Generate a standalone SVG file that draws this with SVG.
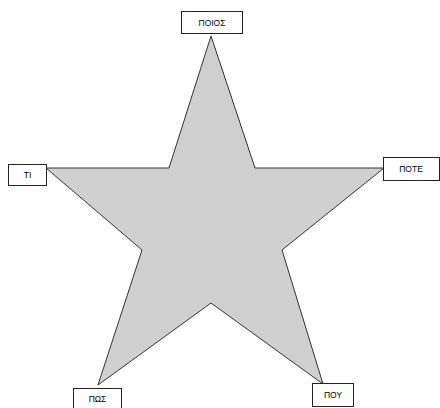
<svg xmlns="http://www.w3.org/2000/svg" width="440" height="408" viewBox="0 0 440 408">
<style>
.box{fill:#fff;stroke:#222;stroke-width:1}
.lbl{font-family:"Liberation Sans",Arial,sans-serif;font-size:8.5px;fill:#000;text-anchor:middle;dominant-baseline:central}
</style>
<rect width="440" height="408" fill="#fff"/>
<g id="star">
<polygon points="211,36 255,168 384,168 282,250 323,384 211,303 98,385 142,250 46,168 169,168" fill="#d0d0d0" stroke="#333" stroke-width="1"/>
</g>
<g id="node-poios"><rect class="box" x="181.5" y="11.5" width="61" height="22"/><text class="lbl" x="212" y="22.5">ΠΟΙΟΣ</text></g>
<g id="node-ti"><rect class="box" x="8.5" y="164.5" width="38" height="21"/><text class="lbl" x="27.5" y="175">ΤΙ</text></g>
<g id="node-pote"><rect class="box" x="383.5" y="157.5" width="56" height="23"/><text class="lbl" x="411" y="169">ΠΟΤΕ</text></g>
<g id="node-pos"><rect class="box" x="73.5" y="388.5" width="48" height="24"/><text class="lbl" x="97.5" y="399">ΠΩΣ</text></g>
<g id="node-pou"><rect class="box" x="312.5" y="383.5" width="41" height="23"/><text class="lbl" x="333" y="395">ΠΟΥ</text></g>
</svg>
